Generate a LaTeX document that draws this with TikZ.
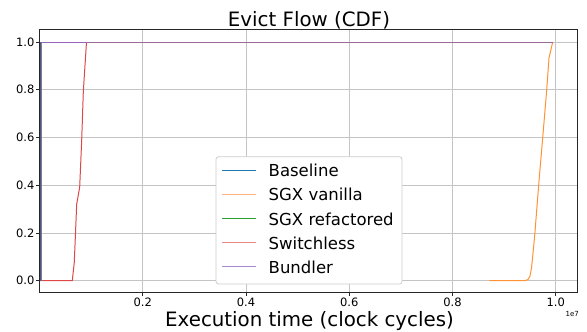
\documentclass[tikz,border=0pt]{standalone}
\usepackage{fontspec}
\setmainfont{DejaVu Sans}
\definecolor{tabblue}{HTML}{1F77B4}
\definecolor{taborange}{HTML}{FF7F0E}
\definecolor{tabgreen}{HTML}{2CA02C}
\definecolor{tabred}{HTML}{D62728}
\definecolor{tabpurple}{HTML}{9467BD}
\definecolor{legorange}{HTML}{FFB27A}
\definecolor{legred}{HTML}{EE8888}
\definecolor{legpurple}{HTML}{A98AD0}
\definecolor{topmix}{HTML}{9A6A98}
\definecolor{leftmix}{HTML}{3A6A5A}
\definecolor{gridgray}{HTML}{C4C4C4}
\definecolor{legedge}{HTML}{CCCCCC}
\begin{document}
\begin{tikzpicture}[x=1pt,y=-1pt,
  gridline/.style={gridgray,line width=0.8pt},
  frame/.style={black!85,line width=0.9pt},
  tickmark/.style={black!85,line width=0.8pt},
  ticklabel/.style={inner sep=0pt,font=\fontsize{11.5}{13}\selectfont},
  series/.style={line width=1pt,line join=round},
  legtext/.style={inner sep=0pt,anchor=west,font=\fontsize{16.5}{19}\selectfont},
  legline/.style={line width=1.4pt}]
\useasboundingbox (0,0) rectangle (587,332);
% grid
\foreach \gx in {142.7,246.0,349.2,452.5,555.7}
  \draw[gridline] (\gx,29.7) -- (\gx,292.3);
\foreach \gy in {42,89.7,137.5,185.2,233,280.7}
  \draw[gridline] (39.5,\gy) -- (577.7,\gy);
% series
\draw[series,color=tabblue] (40,280.7) -- (40,42) -- (86.5,42);
\draw[series,color=taborange!85!white] (489.3,280.7) -- (525,280.7) -- (528,279.5) -- (530,276) -- (531.5,268) -- (533.3,250) -- (535,232) -- (536.7,210) -- (539.5,175) -- (542.7,138) -- (546.7,90) -- (549,58) -- (552.7,42);
\draw[series,color=tabred!85!white] (40,280.7) -- (72.3,280.7) -- (74.3,262) -- (76.7,204) -- (79.7,187) -- (81.7,140) -- (83.3,92) -- (86.5,42);
\draw[series,color=topmix] (86.5,42) -- (552.7,42);
\draw[series,color=tabpurple] (41.8,280.7) -- (41.8,42) -- (86.5,42);
\draw[series,color=leftmix] (40.4,280.7) -- (40.4,42);
% frame
\draw[frame] (39.5,29.7) rectangle (577.7,292.3);
% x ticks
\foreach \gx/\lab in {142.7/0.2,246.0/0.4,349.2/0.6,452.5/0.8,555.7/1.0}{
  \draw[tickmark] (\gx,292.3) -- (\gx,295.8);
  \node[ticklabel,anchor=base] at (\gx,306.7) {\lab};
}
% y ticks
\foreach \gy/\lab in {42/1.0,89.7/0.8,137.5/0.6,185.2/0.4,233/0.2,280.7/0.0}{
  \draw[tickmark] (39.5,\gy) -- (36,\gy);
  \node[ticklabel,anchor=east] at (34.6,\gy) {\lab};
}
\node[inner sep=0pt,font=\fontsize{7}{8}\selectfont] (mult) at (572.3,314) {1e7};
% labels
\node[inner sep=0pt,anchor=base,font=\fontsize{19.8}{23}\selectfont] (title) at (309,26) {Evict Flow (CDF)};
\node[inner sep=0pt,anchor=base,font=\fontsize{19.8}{23}\selectfont] (xlab) at (309.5,326.5) {Execution time (clock cycles)};
% legend
\draw[legedge,fill=white,line width=0.8pt,rounded corners=2.5pt] (216,156.7) rectangle (402,284);
\draw[legline,color=tabblue] (222,170.5) -- (256,170.5);
\draw[legline,color=legorange] (222,194.5) -- (256,194.5);
\draw[legline,color=tabgreen] (222,218.5) -- (256,218.5);
\draw[legline,color=legred] (222,242.5) -- (256,242.5);
\draw[legline,color=legpurple] (222,266.5) -- (256,266.5);
\node[legtext] (l1) at (268.5,170.7) {Baseline};
\node[legtext] (l2) at (268.5,194.3) {SGX vanilla};
\node[legtext] (l3) at (268.5,219) {SGX refactored};
\node[legtext] (l4) at (268.5,243.3) {Switchless};
\node[legtext] (l5) at (268.5,267) {Bundler};
\end{tikzpicture}
\end{document}
